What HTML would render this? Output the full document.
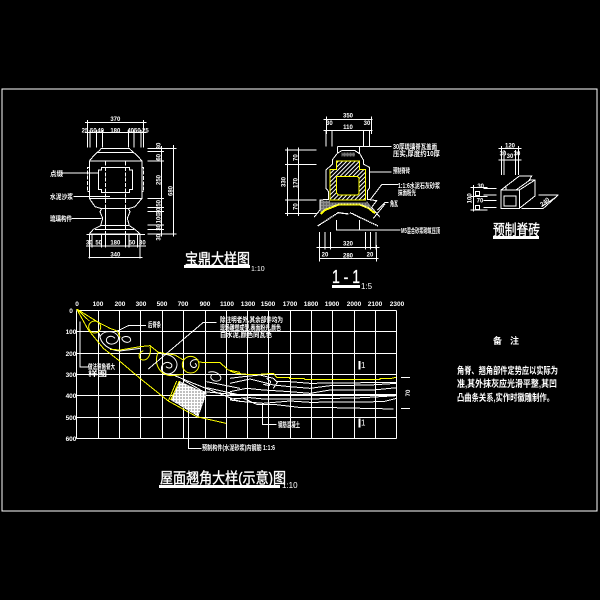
<!DOCTYPE html>
<html lang="zh"><head><meta charset="utf-8"><style>
html,body{margin:0;padding:0;background:#000;width:600px;height:600px;overflow:hidden}
svg{display:block}
text{font-family:"Liberation Sans","Noto Sans CJK SC",sans-serif;fill:#fff;font-weight:700}
text.n{font-weight:400}
text.m{font-weight:400;stroke:#fff;stroke-width:.35}
path,rect{shape-rendering:crispEdges}
.w{fill:none;stroke:#fff;stroke-width:3}
.c{fill:none;stroke:#fff;stroke-width:3;shape-rendering:auto}
.y{fill:none;stroke:#ff0;stroke-width:3}
.yc{fill:none;stroke:#ff0;stroke-width:3;shape-rendering:auto}
.d{font-size:18px;text-anchor:middle}
</style></head><body>
<svg width="600" height="600" viewBox="0 0 600 600" xmlns="http://www.w3.org/2000/svg">
<defs>
<pattern id="h" width="9" height="9" patternUnits="userSpaceOnUse" patternTransform="rotate(-45)"><rect width="9" height="9" fill="#000"/><rect width="9" height="3" fill="#fff"/></pattern>
<pattern id="s" width="9" height="9" patternUnits="userSpaceOnUse"><rect width="9" height="9" fill="#fff"/><rect x="1" y="1" width="3" height="3" fill="#000"/></pattern>
</defs>
<rect x="2" y="89" width="595" height="422" fill="none" stroke="#fff"/>

<!-- 宝鼎 -->
<g transform="translate(60,110) scale(.33333)">
<path class="w" d="M75 38H260M75 68H260M83 30V112M90 60V112M110 60V112M127 60V112M205 60V112M222 60V112M243 60V112M250 30V112"/>
<path class="w" d="M122 115H210M112 127H220M122 118L112 127L103 135L88 153V265L105 290L125 296M210 118L220 127L230 135L246 153V265L225 290L205 296M88 153H246M88 265H246M125 296H205"/>
<path class="w" d="M115 180H125V172H208V180H218V238H208V248H125V238H115Z"/>
<path class="w" d="M89 172H82V245H89M245 172H251V245H245M136 155V370M196 155V370" stroke-dasharray="12 4"/>
<path class="w" d="M125 296L120 305L128 325L122 347L100 358L88 372H240L225 358L208 347L202 325L210 305L205 296M105 358H222M120 347H208M137 296V347M196 296V347"/>
<path class="w" d="M262 115H312M262 125H312M262 153H312M262 265H312M262 293H312M262 305H312M262 345H312M262 358H312M262 372H312M305 108V380M340 105V380M308 115H350M308 372H350"/>
<path class="w" d="M80 373H255M88 375V445M96 375V412M125 375V412M137 375V412M197 375V412M207 375V412M232 375V412M240 375V445M78 408H258M85 442H248"/>
<path class="w" d="M5 189H115M40 259H150M35 325H125"/>
<text class="d" x="166" y="33">370</text>
<text class="d" x="75" y="68">25</text><text class="d" x="100" y="68">50</text><text class="d" x="122" y="68">40</text><text class="d" x="166" y="68">180</text><text class="d" x="212" y="68">40</text><text class="d" x="232" y="68">50</text><text class="d" x="256" y="68">25</text>
<text class="d" x="88" y="404">30</text><text class="d" x="116" y="404">50</text><text class="d" x="166" y="404">180</text><text class="d" x="216" y="404">50</text><text class="d" x="247" y="404">30</text>
<text class="d" x="166" y="439">340</text>
<text class="d" transform="translate(301,108) rotate(-90)">30</text>
<text class="d" transform="translate(301,142) rotate(-90)">60</text>
<text class="d" transform="translate(301,210) rotate(-90)">250</text>
<text class="d" transform="translate(301,280) rotate(-90)">50</text>
<text class="d" transform="translate(301,303) rotate(-90)">30</text>
<text class="d" transform="translate(301,325) rotate(-90)">100</text>
<text class="d" transform="translate(301,352) rotate(-90)">30</text>
<text class="d" transform="translate(301,382) rotate(-90)">30</text>
<text class="d" transform="translate(338,243) rotate(-90)">680</text>
</g>
<text x="50" y="176" font-size="7" textLength="13" lengthAdjust="spacingAndGlyphs">点缀</text>
<text x="50" y="199" font-size="7" textLength="23" lengthAdjust="spacingAndGlyphs">水泥沙浆</text>
<text x="50" y="221" font-size="7" textLength="22" lengthAdjust="spacingAndGlyphs">琉璃构件</text>
<text class="m" x="185" y="264" font-size="15" textLength="65" lengthAdjust="spacingAndGlyphs">宝鼎大样图</text>
<rect x="184" y="265" width="66" height="3" fill="#fff"/>
<text class="n" x="251" y="271" font-size="7">1:10</text>

<!-- 1-1 -->
<g transform="translate(270,110) scale(.33333)">
<path class="w" d="M160 28H308M160 62H308M170 20V72M168 60V110M186 60V110M280 60V110M298 60V110M305 20V72"/>
<path class="w" d="M202 110V130M268 110V130M202 110H365M300 186H365M200 330V360H392M268 330V360"/>
<path class="w" d="M45 120H140M45 163H140M45 270H140M45 310H140M52 112V318M85 112V318"/>
<path class="w" d="M202 130L215 122H255L270 132L280 150V162L298 172V235L292 242V268L320 272L305 292L330 322M202 130L188 148V162L168 180V235L176 245V268L150 270V300L132 322"/>
<path class="w" d="M300 270L335 224H385M322 300L345 278H355M310 325L345 282"/>
<path d="M180 178H200V153H268V178H287V270H180Z" fill="url(#h)"/>
<path class="y" d="M200 178V153H268V178H287V270H180V178Z"/>
<path d="M200 199H262L267 204V250L262 255H205L200 250Z" fill="#000" stroke="#ff0" stroke-width="3"/>
<path d="M152 312L165 300L205 284H270L295 294L315 310" fill="none" stroke="#ff0" stroke-width="6"/>
<path d="M150 272H180V278H290V272L305 292L315 305L270 284H205L165 298L152 308Z" fill="url(#s)" opacity=".55"/>
<path d="M215 128H255V140H215Z" fill="url(#s)" opacity=".45"/>
<path d="M143 348L205 308L236 312M324 348L240 308" fill="none" stroke="#fff" stroke-width="4" stroke-dasharray="5 1"/>
<path class="w" d="M148 366V418M165 366V418M182 366V418M286 366V418M302 366V418M318 366V418M140 412H328M150 446H326M148 405V455M320 405V455"/>
<text class="d" x="234" y="23">350</text><text class="d" x="178" y="45">30</text><text class="d" x="291" y="45">30</text><text class="d" x="234" y="57">110</text>
<text class="d" x="234" y="407">320</text><text class="d" x="165" y="440">20</text><text class="d" x="234" y="443">280</text><text class="d" x="300" y="440">20</text>
<text class="d" transform="translate(83,143) rotate(-90)">70</text>
<text class="d" transform="translate(83,219) rotate(-90)">170</text>
<text class="d" transform="translate(83,290) rotate(-90)">70</text>
<text class="d" transform="translate(47,216) rotate(-90)">330</text>
</g>
<text x="393" y="149" font-size="7" textLength="44" lengthAdjust="spacingAndGlyphs">30厚琉璃脊瓦盖面</text>
<text x="393" y="156" font-size="7" textLength="47" lengthAdjust="spacingAndGlyphs">压实,厚度约10厚</text>
<text x="393" y="173" font-size="7" textLength="17" lengthAdjust="spacingAndGlyphs">预制脊砖</text>
<text x="398" y="188" font-size="7" textLength="42" lengthAdjust="spacingAndGlyphs">1:1:6水泥石灰砂浆</text>
<text x="398" y="195" font-size="7" textLength="18" lengthAdjust="spacingAndGlyphs">抹面粉光</text>
<text x="390" y="206" font-size="7" textLength="8" lengthAdjust="spacingAndGlyphs">角瓦</text>
<text x="401" y="233" font-size="7" textLength="39" lengthAdjust="spacingAndGlyphs">M5混合砂浆砌筑压顶</text>
<text class="m" x="332" y="283" font-size="18" textLength="28" lengthAdjust="spacingAndGlyphs">1 - 1</text>
<rect x="332" y="285" width="28" height="3" fill="#fff"/>
<text class="n" x="361" y="289" font-size="8">1:5</text>

<!-- 预制脊砖 -->
<g transform="translate(430,130) scale(.33333)">
<path class="w" d="M205 55H275M205 90H275M214 48V135M222 60V135M256 60V135M265 48V135"/>
<path class="w" d="M213 180H268V235H213ZM222 198H258V228H222ZM213 180L268 138H305L298 150H315V198L268 235M268 180L315 150M258 180L300 150M228 170V180"/>
<path class="w" d="M160 175H200M160 195H200M160 212H200M160 232H200M122 172H172M122 200H172M122 240H172M130 165V245"/>
<path class="w" d="M275 235H340L385 195M325 195H385M335 230L380 200"/>
<rect x="137" y="185" width="12" height="12" fill="none" stroke="#fff" stroke-width="3"/><rect x="137" y="226" width="12" height="12" fill="none" stroke="#fff" stroke-width="3"/>
<text class="d" x="240" y="52">120</text><text class="d" x="219" y="76">30</text><text class="d" x="240" y="84">30</text><text class="d" x="261" y="76">30</text>
<text class="d" x="152" y="174">30</text><text class="d" x="150" y="217">70</text>
<text class="d" transform="translate(125,205) rotate(-90)">100</text>
<text class="d" transform="translate(348,220) rotate(-40)">240</text>
</g>
<text class="m" x="493" y="235" font-size="15" textLength="47" lengthAdjust="spacingAndGlyphs">预制脊砖</text>
<rect x="493" y="236" width="46" height="3" fill="#fff"/>

<!-- 翘角 grid -->
<path d="M76.5 310.5H396.5M76.5 331.5H396.5M76.5 353.5H396.5M76.5 374.5H396.5M76.5 395.5H396.5M76.5 417.5H396.5M76.5 438.5H396.5M76.5 310.5V438.5M98.5 310.5V438.5M119.5 310.5V438.5M140.5 310.5V438.5M162.5 310.5V438.5M183.5 310.5V438.5M205.5 310.5V438.5M226.5 310.5V438.5M247.5 310.5V438.5M268.5 310.5V438.5M290.5 310.5V438.5M311.5 310.5V438.5M332.5 310.5V438.5M354.5 310.5V438.5M375.5 310.5V438.5M396.5 310.5V438.5" fill="none" stroke="#fff"/>
<g font-size="6.5" text-anchor="middle">
<text x="77" y="306">0</text><text x="98" y="306">100</text><text x="120" y="306">200</text><text x="141" y="306">300</text><text x="162" y="306">500</text><text x="183" y="306">700</text><text x="205" y="306">900</text><text x="227" y="306">1100</text><text x="248" y="306">1300</text><text x="268" y="306">1500</text><text x="290" y="306">1700</text><text x="311" y="306">1800</text><text x="332" y="306">1900</text><text x="354" y="306">2000</text><text x="375" y="306">2100</text><text x="397" y="306">2300</text>
<text x="71" y="313">0</text><text x="71" y="334">100</text><text x="71" y="356">200</text><text x="71" y="377">300</text><text x="71" y="398">400</text><text x="71" y="420">500</text><text x="71" y="441">600</text>
</g>
<g transform="translate(60,295) scale(.33333)">
<path class="c" d="M118 115C120 150 150 165 180 168L240 160M120 125C130 105 165 105 175 125C180 145 150 155 140 140C135 125 155 118 165 130M185 130C195 120 212 125 212 135C210 145 190 145 185 130M305 178C340 175 355 200 350 215C345 238 315 245 305 225C300 205 325 195 335 208C338 220 325 222 318 215M415 195C395 190 385 205 395 215C405 222 415 212 405 205M445 232C470 225 490 245 480 255C465 265 445 250 455 240"/>
<path class="w" d="M340 240L400 265L540 320M370 255L430 290L540 300M440 260L540 280M440 278L540 300"/>
<path d="M358 258L440 295L415 365L332 315Z" fill="url(#s)"/>
<path class="y" d="M50 42L115 82L150 100L172 108L181 128M150 163L180 165L240 155L270 152L295 172L345 180L370 195M50 42L85 105L130 160L175 195L240 250L325 318L410 365L498 385M50 42L88 78"/>
<circle class="y" cx="104" cy="96" r="18"/>
<path class="yc" d="M270 155C275 175 265 197 248 195C235 192 232 175 250 167M295 172C280 200 295 240 335 242L370 238"/>
<circle class="y" cx="392" cy="209" r="25"/>
<path class="y" d="M415 200L432 203H480L505 225L540 232"/>
<path class="y" d="M358 258L332 315M350 258L325 318"/>
<path class="w" d="M172 108L205 92H258M265 222L430 82H470M60 80V216H85M385 300V460H425"/>
</g>
<g transform="translate(230,295) scale(.33333)">
<path class="y" d="M0 228L20 235L50 238H90L130 235L140 247H178V250H222L225 254H450V250H485L498 247"/>
<path class="w" d="M0 250L40 245L90 240L130 250L140 260H180L240 265L500 262M0 265L60 252L100 262L130 270L180 275L240 280L300 272L420 270L500 265M0 290L50 280L100 285L180 290L240 295L300 285L430 285L500 278M0 298H500M0 312L60 308L100 312H215L240 312L400 308L500 302M0 315L40 320L100 325L180 318L240 322L460 320L500 310M40 310L80 328H130L215 338H310L490 342M110 250L122 260L118 272L100 268M130 250L142 262L130 280"/>
<path class="w" d="M97 325V388H140"/>
<path d="M388 198V224M388 370V397" stroke="#fff" stroke-width="6" fill="none"/>
<path class="w" d="M513 247H540M513 340H540"/>
<text class="n" x="393" y="219" font-size="24">1</text><text class="n" x="393" y="391" font-size="24">1</text>
<text class="d" transform="translate(540,294) rotate(-90)">70</text>
</g>
<text x="148" y="327" font-size="7" textLength="13" lengthAdjust="spacingAndGlyphs">后脊条</text>
<text x="220" y="322" font-size="7" textLength="63" lengthAdjust="spacingAndGlyphs">除注明者外,其余部件均为</text>
<text x="220" y="330" font-size="7" textLength="61" lengthAdjust="spacingAndGlyphs">现场雕塑成型,表面粉光,颜色</text>
<text x="220" y="337" font-size="7" textLength="52" lengthAdjust="spacingAndGlyphs">白水泥,颜色同瓦色</text>
<text x="88" y="369" font-size="7" textLength="27" lengthAdjust="spacingAndGlyphs">做法详角脊大</text>
<text x="88" y="376" font-size="7" textLength="19" lengthAdjust="spacingAndGlyphs">样图</text>
<text x="202" y="450" font-size="7" textLength="73" lengthAdjust="spacingAndGlyphs">预制构件(水泥砂浆)内钢筋 1:1:6</text>
<text x="278" y="427" font-size="7" textLength="22" lengthAdjust="spacingAndGlyphs">钢筋混凝土</text>
<text class="m" x="160" y="483" font-size="15" textLength="126" lengthAdjust="spacingAndGlyphs">屋面翘角大样(示意)图</text>
<rect x="159" y="485" width="121" height="3" fill="#fff"/>
<text class="n" x="282" y="488" font-size="8">1:10</text>

<!-- 备注 -->
<text x="493" y="344" font-size="9">备</text><text x="510" y="344" font-size="9">注</text>
<g font-size="9.5">
<text x="457" y="374" textLength="101" lengthAdjust="spacingAndGlyphs">角脊、翘角部件定势应以实际为</text>
<text x="457" y="387" textLength="100" lengthAdjust="spacingAndGlyphs">准,其外抹灰应光滑平整,其凹</text>
<text x="457" y="401" textLength="97" lengthAdjust="spacingAndGlyphs">凸曲条关系,实作时徽雕制作。</text>
</g>
</svg>
</body></html>
